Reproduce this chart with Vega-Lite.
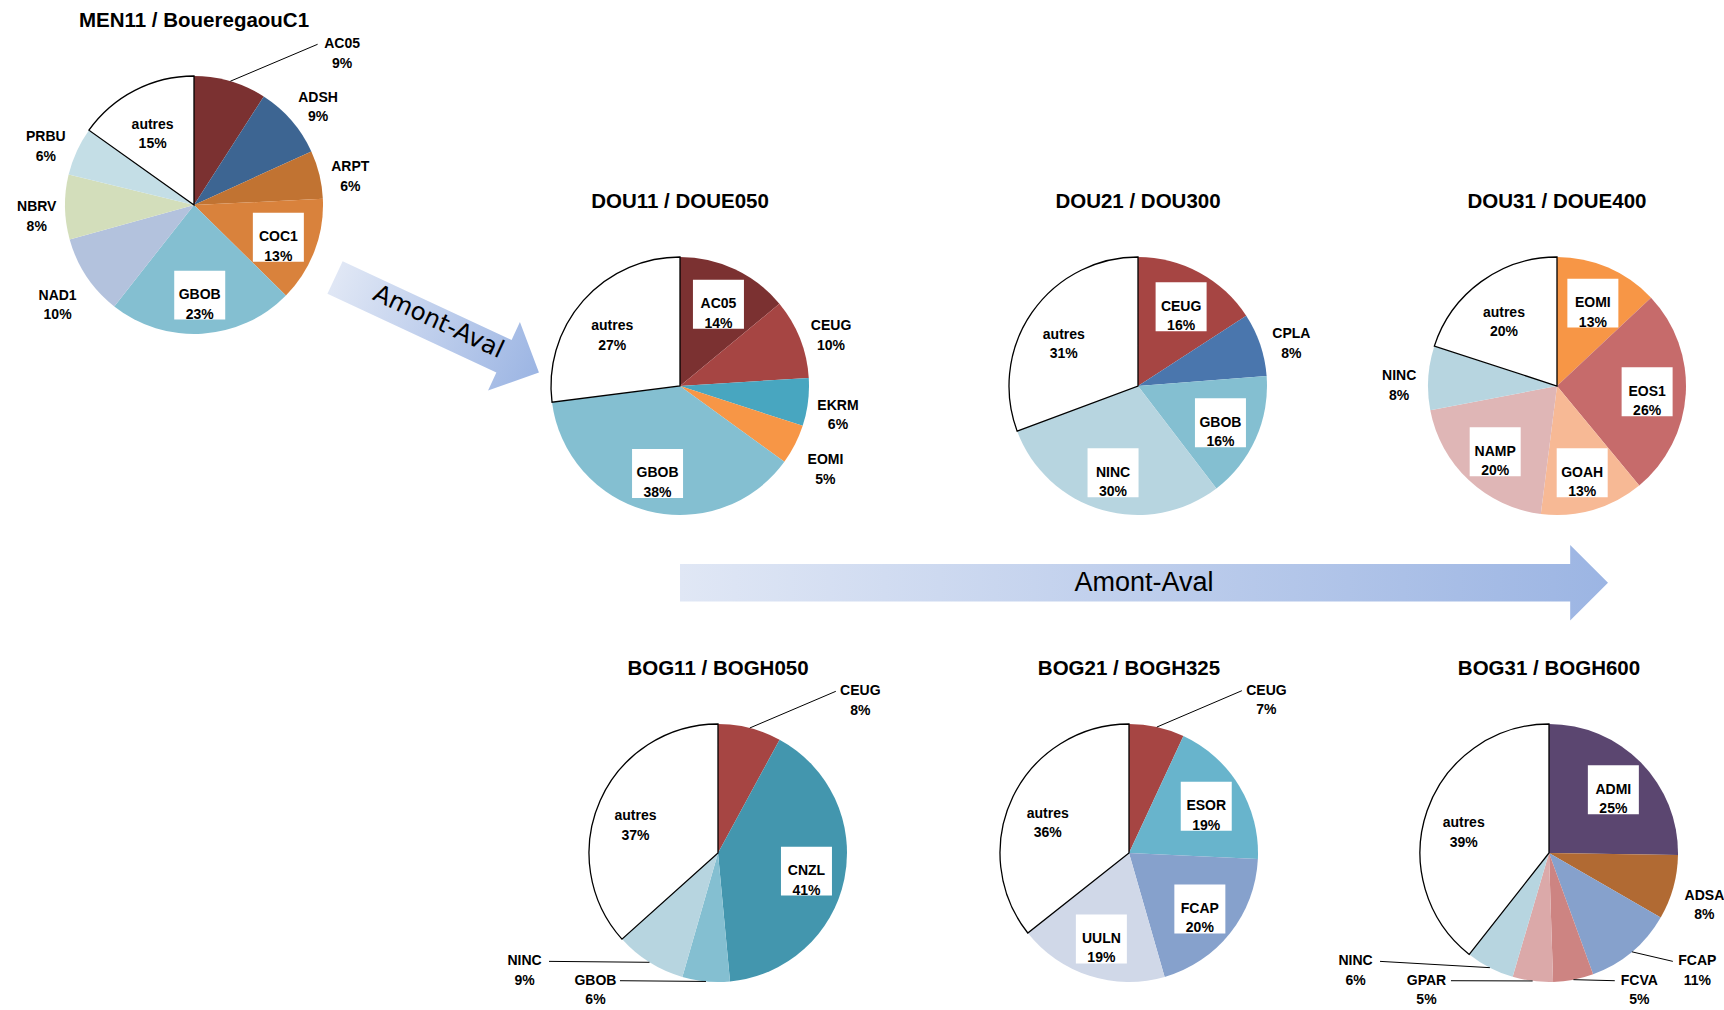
{
"$schema": "https://vega.github.io/schema/vega-lite/v6.json",
"padding": 0,
"background": "white",
"config": {"view": {"stroke": null}, "concat": {"spacing": 0}},
"datasets": {"pies": [
{"pie": "MEN11", "taxon": "AC05", "pct": 9},
{"pie": "MEN11", "taxon": "ADSH", "pct": 9},
{"pie": "MEN11", "taxon": "ARPT", "pct": 6},
{"pie": "MEN11", "taxon": "COC1", "pct": 13},
{"pie": "MEN11", "taxon": "GBOB", "pct": 23},
{"pie": "MEN11", "taxon": "NAD1", "pct": 10},
{"pie": "MEN11", "taxon": "NBRV", "pct": 8},
{"pie": "MEN11", "taxon": "PRBU", "pct": 6},
{"pie": "MEN11", "taxon": "autres", "pct": 15},
{"pie": "DOU11", "taxon": "AC05", "pct": 14},
{"pie": "DOU11", "taxon": "CEUG", "pct": 10},
{"pie": "DOU11", "taxon": "EKRM", "pct": 6},
{"pie": "DOU11", "taxon": "EOMI", "pct": 5},
{"pie": "DOU11", "taxon": "GBOB", "pct": 38},
{"pie": "DOU11", "taxon": "autres", "pct": 27},
{"pie": "DOU21", "taxon": "CEUG", "pct": 16},
{"pie": "DOU21", "taxon": "CPLA", "pct": 8},
{"pie": "DOU21", "taxon": "GBOB", "pct": 16},
{"pie": "DOU21", "taxon": "NINC", "pct": 30},
{"pie": "DOU21", "taxon": "autres", "pct": 31},
{"pie": "DOU31", "taxon": "EOMI", "pct": 13},
{"pie": "DOU31", "taxon": "EOS1", "pct": 26},
{"pie": "DOU31", "taxon": "GOAH", "pct": 13},
{"pie": "DOU31", "taxon": "NAMP", "pct": 20},
{"pie": "DOU31", "taxon": "NINC", "pct": 8},
{"pie": "DOU31", "taxon": "autres", "pct": 20},
{"pie": "BOG11", "taxon": "CEUG", "pct": 8},
{"pie": "BOG11", "taxon": "CNZL", "pct": 41},
{"pie": "BOG11", "taxon": "GBOB", "pct": 6},
{"pie": "BOG11", "taxon": "NINC", "pct": 9},
{"pie": "BOG11", "taxon": "autres", "pct": 37},
{"pie": "BOG21", "taxon": "CEUG", "pct": 7},
{"pie": "BOG21", "taxon": "ESOR", "pct": 19},
{"pie": "BOG21", "taxon": "FCAP", "pct": 20},
{"pie": "BOG21", "taxon": "UULN", "pct": 19},
{"pie": "BOG21", "taxon": "autres", "pct": 36},
{"pie": "BOG31", "taxon": "ADMI", "pct": 25},
{"pie": "BOG31", "taxon": "ADSA", "pct": 8},
{"pie": "BOG31", "taxon": "FCAP", "pct": 11},
{"pie": "BOG31", "taxon": "FCVA", "pct": 5},
{"pie": "BOG31", "taxon": "GPAR", "pct": 5},
{"pie": "BOG31", "taxon": "NINC", "pct": 6},
{"pie": "BOG31", "taxon": "autres", "pct": 39}
]},
"spacing": 0,
"bounds": "flush",
"vconcat": [
{"hconcat": [
  {"width": 64.5, "height": 1, "data": {"values": []}, "mark": "point"},
  {"vconcat": [
    {"width": 1, "height": 5.8, "data": {"values": []}, "mark": "point"},
    {"width": 258, "height": 30, "data": {"values": [{"station": "MEN11 / BoueregaouC1"}]}, "mark": {"type": "text", "font": "Liberation Sans", "fontSize": 20.5, "fontWeight": "bold", "baseline": "middle", "align": "center"}, "encoding": {"text": {"field": "station"}}},
    {"width": 1, "height": 39.7, "data": {"values": []}, "mark": "point"},
    {"width": 258, "height": 258, "data": {"name": "pies"},
     "transform": [{"filter": "datum.pie === 'MEN11'"}, {"joinaggregate": [{"op": "sum", "field": "pct", "as": "tot"}]}, {"window": [{"op": "sum", "field": "pct", "as": "cum"}], "sort": [{"field": "taxon", "order": "ascending"}]}, {"calculate": "2*PI*(datum.cum - datum.pct/2)/datum.tot", "as": "ang"}, {"calculate": "sin(datum.ang)", "as": "sx"}, {"calculate": "cos(datum.ang)", "as": "cy"}, {"calculate": "datum.pct >= 13 ? 0.7 : 1 + (6 + 22*abs(datum.sx) + 19*abs(datum.cy))/129", "as": "rr"}, {"calculate": "datum.pct < 13 && datum.cy > 0.94 ? 'top' : (datum.pct < 13 && datum.cy < -0.6 ? 'bot' : 'none')", "as": "zone"}, {"calculate": "datum.zone === 'top' ? datum.rr*datum.sx + (datum.sx >= 0 ? 0.8 : -0.8) : (datum.zone === 'bot' ? (datum.sx >= 0 ? (abs(datum.sx) > 0.4 ? 1.15 : 0.7) : (abs(datum.sx) > 0.4 ? -1.5 : -0.95)) : datum.rr*datum.sx)", "as": "lx"}, {"calculate": "datum.zone === 'top' ? datum.rr*datum.cy + 0.06 : (datum.zone === 'bot' ? (abs(datum.sx) > 0.4 ? -0.84 : -0.99) : datum.rr*datum.cy)", "as": "ly"}, {"calculate": "datum.lx > datum.sx ? datum.lx - 0.19 : datum.lx + 0.19", "as": "ex"}, {"calculate": "datum.taxon + '\\n' + datum.pct + '%'", "as": "label"}],
     "layer": [
      {"mark": {"type": "arc", "strokeWidth": 1.3}, "encoding": {"theta": {"field": "pct", "type": "quantitative", "stack": true}, "order": {"field": "taxon", "sort": "ascending"}, "color": {"field": "taxon", "type": "nominal", "legend": null, "scale": {"domain": ["AC05","ADSH","ARPT","COC1","GBOB","NAD1","NBRV","PRBU","CEUG","EKRM","EOMI","CPLA","NINC","EOS1","GOAH","NAMP","CNZL","ESOR","FCAP","UULN","ADMI","ADSA","FCVA","GPAR","autres"], "range": ["#7b3131","#3d6592","#c17332","#d9823c","#84bfd1","#b3c2dd","#d3debb","#c4dee6","#a64543","#48a6c0","#f79646","#4a76ad","#b7d5e0","#c66b6b","#f7b995","#dfb6b6","#4396ae","#68b4cc","#86a1cc","#d0d8e8","#5b4670","#b16a33","#cd8482","#dba9a9","#ffffff"]}}, "stroke": {"condition": {"test": "datum.taxon === 'autres'", "value": "#000000"}, "value": "transparent"}}},
      {"transform": [{"filter": "datum.zone !== 'none'"}], "mark": {"type": "rule", "color": "#000000", "strokeWidth": 1}, "encoding": {"x": {"field": "sx", "type": "quantitative", "scale": {"domain": [-1, 1]}, "axis": null}, "y": {"field": "cy", "type": "quantitative", "scale": {"domain": [-1, 1]}, "axis": null}, "x2": {"field": "ex"}, "y2": {"field": "ly"}}},
      {"transform": [{"filter": "datum.pct >= 13 && datum.taxon !== 'autres'"}], "mark": {"type": "point", "shape": "M -1 -0.96 L 1 -0.96 L 1 0.96 L -1 0.96 Z", "size": 2601, "filled": true, "fill": "#ffffff", "opacity": 1, "strokeWidth": 0}, "encoding": {"x": {"field": "lx", "type": "quantitative", "scale": {"domain": [-1, 1]}, "axis": null}, "y": {"field": "ly", "type": "quantitative", "scale": {"domain": [-1, 1]}, "axis": null}}},
      {"mark": {"type": "text", "font": "Liberation Sans", "fontSize": 14, "fontWeight": "bold", "lineBreak": "\n", "lineHeight": 19.5, "baseline": "middle", "align": "center", "color": "#000000"}, "encoding": {"x": {"field": "lx", "type": "quantitative", "scale": {"domain": [-1, 1]}, "axis": null}, "y": {"field": "ly", "type": "quantitative", "scale": {"domain": [-1, 1]}, "axis": null}, "text": {"field": "label"}}}
     ]}
  ], "spacing": 0, "bounds": "flush"},
  {"width": 258, "height": 1, "data": {"values": []}, "mark": "point"},
  {"vconcat": [
    {"width": 1, "height": 274.6, "data": {"values": []}, "mark": "point"},
    {"width": 228, "height": 100, "data": {"values": [{"label": "Amont-Aval"}]},
     "layer": [
      {"mark": {"type": "point", "shape": "M -1 -0.16 L 0.657 -0.16 L 0.657 -0.335 L 1 0 L 0.657 0.335 L 0.657 0.16 L -1 0.16 Z", "size": 50625, "angle": 25, "filled": true, "opacity": 1, "strokeWidth": 0, "fill": {"gradient": "linear", "x1": 0, "y1": 0, "x2": 1, "y2": 0, "stops": [{"offset": 0, "color": "#e0e7f5"}, {"offset": 1, "color": "#9cb5e3"}]}}},
      {"mark": {"type": "text", "font": "DejaVu Sans", "fontSize": 24.5, "angle": 25, "dy": -3, "baseline": "middle", "align": "center", "color": "#000000"}, "encoding": {"text": {"field": "label"}}}
     ]}
  ], "spacing": 0, "bounds": "flush"},
  {"width": 228, "height": 1, "data": {"values": []}, "mark": "point"},
  {"vconcat": [
    {"width": 1, "height": 187, "data": {"values": []}, "mark": "point"},
    {"width": 258, "height": 30, "data": {"values": [{"station": "DOU11 / DOUE050"}]}, "mark": {"type": "text", "font": "Liberation Sans", "fontSize": 20.5, "fontWeight": "bold", "baseline": "middle", "align": "center"}, "encoding": {"text": {"field": "station"}}},
    {"width": 1, "height": 39.7, "data": {"values": []}, "mark": "point"},
    {"width": 258, "height": 258, "data": {"name": "pies"},
     "transform": [{"filter": "datum.pie === 'DOU11'"}, {"joinaggregate": [{"op": "sum", "field": "pct", "as": "tot"}]}, {"window": [{"op": "sum", "field": "pct", "as": "cum"}], "sort": [{"field": "taxon", "order": "ascending"}]}, {"calculate": "2*PI*(datum.cum - datum.pct/2)/datum.tot", "as": "ang"}, {"calculate": "sin(datum.ang)", "as": "sx"}, {"calculate": "cos(datum.ang)", "as": "cy"}, {"calculate": "datum.pct >= 13 ? 0.7 : 1 + (6 + 22*abs(datum.sx) + 19*abs(datum.cy))/129", "as": "rr"}, {"calculate": "datum.pct < 13 && datum.cy > 0.94 ? 'top' : (datum.pct < 13 && datum.cy < -0.6 ? 'bot' : 'none')", "as": "zone"}, {"calculate": "datum.zone === 'top' ? datum.rr*datum.sx + (datum.sx >= 0 ? 0.8 : -0.8) : (datum.zone === 'bot' ? (datum.sx >= 0 ? (abs(datum.sx) > 0.4 ? 1.15 : 0.7) : (abs(datum.sx) > 0.4 ? -1.5 : -0.95)) : datum.rr*datum.sx)", "as": "lx"}, {"calculate": "datum.zone === 'top' ? datum.rr*datum.cy + 0.06 : (datum.zone === 'bot' ? (abs(datum.sx) > 0.4 ? -0.84 : -0.99) : datum.rr*datum.cy)", "as": "ly"}, {"calculate": "datum.lx > datum.sx ? datum.lx - 0.19 : datum.lx + 0.19", "as": "ex"}, {"calculate": "datum.taxon + '\\n' + datum.pct + '%'", "as": "label"}],
     "layer": [
      {"mark": {"type": "arc", "strokeWidth": 1.3}, "encoding": {"theta": {"field": "pct", "type": "quantitative", "stack": true}, "order": {"field": "taxon", "sort": "ascending"}, "color": {"field": "taxon", "type": "nominal", "legend": null, "scale": {"domain": ["AC05","ADSH","ARPT","COC1","GBOB","NAD1","NBRV","PRBU","CEUG","EKRM","EOMI","CPLA","NINC","EOS1","GOAH","NAMP","CNZL","ESOR","FCAP","UULN","ADMI","ADSA","FCVA","GPAR","autres"], "range": ["#7b3131","#3d6592","#c17332","#d9823c","#84bfd1","#b3c2dd","#d3debb","#c4dee6","#a64543","#48a6c0","#f79646","#4a76ad","#b7d5e0","#c66b6b","#f7b995","#dfb6b6","#4396ae","#68b4cc","#86a1cc","#d0d8e8","#5b4670","#b16a33","#cd8482","#dba9a9","#ffffff"]}}, "stroke": {"condition": {"test": "datum.taxon === 'autres'", "value": "#000000"}, "value": "transparent"}}},
      {"transform": [{"filter": "datum.zone !== 'none'"}], "mark": {"type": "rule", "color": "#000000", "strokeWidth": 1}, "encoding": {"x": {"field": "sx", "type": "quantitative", "scale": {"domain": [-1, 1]}, "axis": null}, "y": {"field": "cy", "type": "quantitative", "scale": {"domain": [-1, 1]}, "axis": null}, "x2": {"field": "ex"}, "y2": {"field": "ly"}}},
      {"transform": [{"filter": "datum.pct >= 13 && datum.taxon !== 'autres'"}], "mark": {"type": "point", "shape": "M -1 -0.96 L 1 -0.96 L 1 0.96 L -1 0.96 Z", "size": 2601, "filled": true, "fill": "#ffffff", "opacity": 1, "strokeWidth": 0}, "encoding": {"x": {"field": "lx", "type": "quantitative", "scale": {"domain": [-1, 1]}, "axis": null}, "y": {"field": "ly", "type": "quantitative", "scale": {"domain": [-1, 1]}, "axis": null}}},
      {"mark": {"type": "text", "font": "Liberation Sans", "fontSize": 14, "fontWeight": "bold", "lineBreak": "\n", "lineHeight": 19.5, "baseline": "middle", "align": "center", "color": "#000000"}, "encoding": {"x": {"field": "lx", "type": "quantitative", "scale": {"domain": [-1, 1]}, "axis": null}, "y": {"field": "ly", "type": "quantitative", "scale": {"domain": [-1, 1]}, "axis": null}, "text": {"field": "label"}}}
     ]}
  ], "spacing": 0, "bounds": "flush"},
  {"width": 458, "height": 1, "data": {"values": []}, "mark": "point"},
  {"vconcat": [
    {"width": 1, "height": 187, "data": {"values": []}, "mark": "point"},
    {"width": 258, "height": 30, "data": {"values": [{"station": "DOU21 / DOU300"}]}, "mark": {"type": "text", "font": "Liberation Sans", "fontSize": 20.5, "fontWeight": "bold", "baseline": "middle", "align": "center"}, "encoding": {"text": {"field": "station"}}},
    {"width": 1, "height": 39.7, "data": {"values": []}, "mark": "point"},
    {"width": 258, "height": 258, "data": {"name": "pies"},
     "transform": [{"filter": "datum.pie === 'DOU21'"}, {"joinaggregate": [{"op": "sum", "field": "pct", "as": "tot"}]}, {"window": [{"op": "sum", "field": "pct", "as": "cum"}], "sort": [{"field": "taxon", "order": "ascending"}]}, {"calculate": "2*PI*(datum.cum - datum.pct/2)/datum.tot", "as": "ang"}, {"calculate": "sin(datum.ang)", "as": "sx"}, {"calculate": "cos(datum.ang)", "as": "cy"}, {"calculate": "datum.pct >= 13 ? 0.7 : 1 + (6 + 22*abs(datum.sx) + 19*abs(datum.cy))/129", "as": "rr"}, {"calculate": "datum.pct < 13 && datum.cy > 0.94 ? 'top' : (datum.pct < 13 && datum.cy < -0.6 ? 'bot' : 'none')", "as": "zone"}, {"calculate": "datum.zone === 'top' ? datum.rr*datum.sx + (datum.sx >= 0 ? 0.8 : -0.8) : (datum.zone === 'bot' ? (datum.sx >= 0 ? (abs(datum.sx) > 0.4 ? 1.15 : 0.7) : (abs(datum.sx) > 0.4 ? -1.5 : -0.95)) : datum.rr*datum.sx)", "as": "lx"}, {"calculate": "datum.zone === 'top' ? datum.rr*datum.cy + 0.06 : (datum.zone === 'bot' ? (abs(datum.sx) > 0.4 ? -0.84 : -0.99) : datum.rr*datum.cy)", "as": "ly"}, {"calculate": "datum.lx > datum.sx ? datum.lx - 0.19 : datum.lx + 0.19", "as": "ex"}, {"calculate": "datum.taxon + '\\n' + datum.pct + '%'", "as": "label"}],
     "layer": [
      {"mark": {"type": "arc", "strokeWidth": 1.3}, "encoding": {"theta": {"field": "pct", "type": "quantitative", "stack": true}, "order": {"field": "taxon", "sort": "ascending"}, "color": {"field": "taxon", "type": "nominal", "legend": null, "scale": {"domain": ["AC05","ADSH","ARPT","COC1","GBOB","NAD1","NBRV","PRBU","CEUG","EKRM","EOMI","CPLA","NINC","EOS1","GOAH","NAMP","CNZL","ESOR","FCAP","UULN","ADMI","ADSA","FCVA","GPAR","autres"], "range": ["#7b3131","#3d6592","#c17332","#d9823c","#84bfd1","#b3c2dd","#d3debb","#c4dee6","#a64543","#48a6c0","#f79646","#4a76ad","#b7d5e0","#c66b6b","#f7b995","#dfb6b6","#4396ae","#68b4cc","#86a1cc","#d0d8e8","#5b4670","#b16a33","#cd8482","#dba9a9","#ffffff"]}}, "stroke": {"condition": {"test": "datum.taxon === 'autres'", "value": "#000000"}, "value": "transparent"}}},
      {"transform": [{"filter": "datum.zone !== 'none'"}], "mark": {"type": "rule", "color": "#000000", "strokeWidth": 1}, "encoding": {"x": {"field": "sx", "type": "quantitative", "scale": {"domain": [-1, 1]}, "axis": null}, "y": {"field": "cy", "type": "quantitative", "scale": {"domain": [-1, 1]}, "axis": null}, "x2": {"field": "ex"}, "y2": {"field": "ly"}}},
      {"transform": [{"filter": "datum.pct >= 13 && datum.taxon !== 'autres'"}], "mark": {"type": "point", "shape": "M -1 -0.96 L 1 -0.96 L 1 0.96 L -1 0.96 Z", "size": 2601, "filled": true, "fill": "#ffffff", "opacity": 1, "strokeWidth": 0}, "encoding": {"x": {"field": "lx", "type": "quantitative", "scale": {"domain": [-1, 1]}, "axis": null}, "y": {"field": "ly", "type": "quantitative", "scale": {"domain": [-1, 1]}, "axis": null}}},
      {"mark": {"type": "text", "font": "Liberation Sans", "fontSize": 14, "fontWeight": "bold", "lineBreak": "\n", "lineHeight": 19.5, "baseline": "middle", "align": "center", "color": "#000000"}, "encoding": {"x": {"field": "lx", "type": "quantitative", "scale": {"domain": [-1, 1]}, "axis": null}, "y": {"field": "ly", "type": "quantitative", "scale": {"domain": [-1, 1]}, "axis": null}, "text": {"field": "label"}}}
     ]}
  ], "spacing": 0, "bounds": "flush"},
  {"width": 418.3, "height": 1, "data": {"values": []}, "mark": "point"},
  {"vconcat": [
    {"width": 1, "height": 187, "data": {"values": []}, "mark": "point"},
    {"width": 258, "height": 30, "data": {"values": [{"station": "DOU31 / DOUE400"}]}, "mark": {"type": "text", "font": "Liberation Sans", "fontSize": 20.5, "fontWeight": "bold", "baseline": "middle", "align": "center"}, "encoding": {"text": {"field": "station"}}},
    {"width": 1, "height": 39.7, "data": {"values": []}, "mark": "point"},
    {"width": 258, "height": 258, "data": {"name": "pies"},
     "transform": [{"filter": "datum.pie === 'DOU31'"}, {"joinaggregate": [{"op": "sum", "field": "pct", "as": "tot"}]}, {"window": [{"op": "sum", "field": "pct", "as": "cum"}], "sort": [{"field": "taxon", "order": "ascending"}]}, {"calculate": "2*PI*(datum.cum - datum.pct/2)/datum.tot", "as": "ang"}, {"calculate": "sin(datum.ang)", "as": "sx"}, {"calculate": "cos(datum.ang)", "as": "cy"}, {"calculate": "datum.pct >= 13 ? 0.7 : 1 + (6 + 22*abs(datum.sx) + 19*abs(datum.cy))/129", "as": "rr"}, {"calculate": "datum.pct < 13 && datum.cy > 0.94 ? 'top' : (datum.pct < 13 && datum.cy < -0.6 ? 'bot' : 'none')", "as": "zone"}, {"calculate": "datum.zone === 'top' ? datum.rr*datum.sx + (datum.sx >= 0 ? 0.8 : -0.8) : (datum.zone === 'bot' ? (datum.sx >= 0 ? (abs(datum.sx) > 0.4 ? 1.15 : 0.7) : (abs(datum.sx) > 0.4 ? -1.5 : -0.95)) : datum.rr*datum.sx)", "as": "lx"}, {"calculate": "datum.zone === 'top' ? datum.rr*datum.cy + 0.06 : (datum.zone === 'bot' ? (abs(datum.sx) > 0.4 ? -0.84 : -0.99) : datum.rr*datum.cy)", "as": "ly"}, {"calculate": "datum.lx > datum.sx ? datum.lx - 0.19 : datum.lx + 0.19", "as": "ex"}, {"calculate": "datum.taxon + '\\n' + datum.pct + '%'", "as": "label"}],
     "layer": [
      {"mark": {"type": "arc", "strokeWidth": 1.3}, "encoding": {"theta": {"field": "pct", "type": "quantitative", "stack": true}, "order": {"field": "taxon", "sort": "ascending"}, "color": {"field": "taxon", "type": "nominal", "legend": null, "scale": {"domain": ["AC05","ADSH","ARPT","COC1","GBOB","NAD1","NBRV","PRBU","CEUG","EKRM","EOMI","CPLA","NINC","EOS1","GOAH","NAMP","CNZL","ESOR","FCAP","UULN","ADMI","ADSA","FCVA","GPAR","autres"], "range": ["#7b3131","#3d6592","#c17332","#d9823c","#84bfd1","#b3c2dd","#d3debb","#c4dee6","#a64543","#48a6c0","#f79646","#4a76ad","#b7d5e0","#c66b6b","#f7b995","#dfb6b6","#4396ae","#68b4cc","#86a1cc","#d0d8e8","#5b4670","#b16a33","#cd8482","#dba9a9","#ffffff"]}}, "stroke": {"condition": {"test": "datum.taxon === 'autres'", "value": "#000000"}, "value": "transparent"}}},
      {"transform": [{"filter": "datum.zone !== 'none'"}], "mark": {"type": "rule", "color": "#000000", "strokeWidth": 1}, "encoding": {"x": {"field": "sx", "type": "quantitative", "scale": {"domain": [-1, 1]}, "axis": null}, "y": {"field": "cy", "type": "quantitative", "scale": {"domain": [-1, 1]}, "axis": null}, "x2": {"field": "ex"}, "y2": {"field": "ly"}}},
      {"transform": [{"filter": "datum.pct >= 13 && datum.taxon !== 'autres'"}], "mark": {"type": "point", "shape": "M -1 -0.96 L 1 -0.96 L 1 0.96 L -1 0.96 Z", "size": 2601, "filled": true, "fill": "#ffffff", "opacity": 1, "strokeWidth": 0}, "encoding": {"x": {"field": "lx", "type": "quantitative", "scale": {"domain": [-1, 1]}, "axis": null}, "y": {"field": "ly", "type": "quantitative", "scale": {"domain": [-1, 1]}, "axis": null}}},
      {"mark": {"type": "text", "font": "Liberation Sans", "fontSize": 14, "fontWeight": "bold", "lineBreak": "\n", "lineHeight": 19.5, "baseline": "middle", "align": "center", "color": "#000000"}, "encoding": {"x": {"field": "lx", "type": "quantitative", "scale": {"domain": [-1, 1]}, "axis": null}, "y": {"field": "ly", "type": "quantitative", "scale": {"domain": [-1, 1]}, "axis": null}, "text": {"field": "label"}}}
     ]}
  ], "spacing": 0, "bounds": "flush"}
], "spacing": 0, "bounds": "flush"},
{"width": 1, "height": 564, "data": {"values": []}, "mark": "point"},
{"hconcat": [
  {"width": 679.5, "height": 1, "data": {"values": []}, "mark": "point"},
  {"width": 928, "height": 37.5, "data": {"values": [{"label": "Amont-Aval"}]},
   "layer": [
    {"mark": {"type": "point", "shape": "M -1 -0.0404 L 0.9185 -0.0404 L 0.9185 -0.0816 L 1 0 L 0.9185 0.0816 L 0.9185 0.0404 L -1 0.0404 Z", "size": 861184, "filled": true, "opacity": 1, "strokeWidth": 0, "fill": {"gradient": "linear", "x1": 0, "y1": 0, "x2": 1, "y2": 0, "stops": [{"offset": 0, "color": "#e0e7f5"}, {"offset": 1, "color": "#9cb5e3"}]}}},
    {"mark": {"type": "text", "font": "Liberation Sans", "fontSize": 27, "baseline": "middle", "align": "center", "color": "#000000"}, "encoding": {"text": {"field": "label"}}}
   ]}
], "spacing": 0, "bounds": "flush"},
{"width": 1, "height": 89.9, "data": {"values": []}, "mark": "point"},
{"hconcat": [
  {"width": 588.4, "height": 1, "data": {"values": []}, "mark": "point"},
  {"vconcat": [
    {"width": 258, "height": 30, "data": {"values": [{"station": "BOG11  / BOGH050"}]}, "mark": {"type": "text", "font": "Liberation Sans", "fontSize": 20.5, "fontWeight": "bold", "baseline": "middle", "align": "center"}, "encoding": {"text": {"field": "station"}}},
    {"width": 1, "height": 39.7, "data": {"values": []}, "mark": "point"},
    {"width": 258, "height": 258, "data": {"name": "pies"},
     "transform": [{"filter": "datum.pie === 'BOG11'"}, {"joinaggregate": [{"op": "sum", "field": "pct", "as": "tot"}]}, {"window": [{"op": "sum", "field": "pct", "as": "cum"}], "sort": [{"field": "taxon", "order": "ascending"}]}, {"calculate": "2*PI*(datum.cum - datum.pct/2)/datum.tot", "as": "ang"}, {"calculate": "sin(datum.ang)", "as": "sx"}, {"calculate": "cos(datum.ang)", "as": "cy"}, {"calculate": "datum.pct >= 13 ? 0.7 : 1 + (6 + 22*abs(datum.sx) + 19*abs(datum.cy))/129", "as": "rr"}, {"calculate": "datum.pct < 13 && datum.cy > 0.94 ? 'top' : (datum.pct < 13 && datum.cy < -0.6 ? 'bot' : 'none')", "as": "zone"}, {"calculate": "datum.zone === 'top' ? datum.rr*datum.sx + (datum.sx >= 0 ? 0.8 : -0.8) : (datum.zone === 'bot' ? (datum.sx >= 0 ? (abs(datum.sx) > 0.4 ? 1.15 : 0.7) : (abs(datum.sx) > 0.4 ? -1.5 : -0.95)) : datum.rr*datum.sx)", "as": "lx"}, {"calculate": "datum.zone === 'top' ? datum.rr*datum.cy + 0.06 : (datum.zone === 'bot' ? (abs(datum.sx) > 0.4 ? -0.84 : -0.99) : datum.rr*datum.cy)", "as": "ly"}, {"calculate": "datum.lx > datum.sx ? datum.lx - 0.19 : datum.lx + 0.19", "as": "ex"}, {"calculate": "datum.taxon + '\\n' + datum.pct + '%'", "as": "label"}],
     "layer": [
      {"mark": {"type": "arc", "strokeWidth": 1.3}, "encoding": {"theta": {"field": "pct", "type": "quantitative", "stack": true}, "order": {"field": "taxon", "sort": "ascending"}, "color": {"field": "taxon", "type": "nominal", "legend": null, "scale": {"domain": ["AC05","ADSH","ARPT","COC1","GBOB","NAD1","NBRV","PRBU","CEUG","EKRM","EOMI","CPLA","NINC","EOS1","GOAH","NAMP","CNZL","ESOR","FCAP","UULN","ADMI","ADSA","FCVA","GPAR","autres"], "range": ["#7b3131","#3d6592","#c17332","#d9823c","#84bfd1","#b3c2dd","#d3debb","#c4dee6","#a64543","#48a6c0","#f79646","#4a76ad","#b7d5e0","#c66b6b","#f7b995","#dfb6b6","#4396ae","#68b4cc","#86a1cc","#d0d8e8","#5b4670","#b16a33","#cd8482","#dba9a9","#ffffff"]}}, "stroke": {"condition": {"test": "datum.taxon === 'autres'", "value": "#000000"}, "value": "transparent"}}},
      {"transform": [{"filter": "datum.zone !== 'none'"}], "mark": {"type": "rule", "color": "#000000", "strokeWidth": 1}, "encoding": {"x": {"field": "sx", "type": "quantitative", "scale": {"domain": [-1, 1]}, "axis": null}, "y": {"field": "cy", "type": "quantitative", "scale": {"domain": [-1, 1]}, "axis": null}, "x2": {"field": "ex"}, "y2": {"field": "ly"}}},
      {"transform": [{"filter": "datum.pct >= 13 && datum.taxon !== 'autres'"}], "mark": {"type": "point", "shape": "M -1 -0.96 L 1 -0.96 L 1 0.96 L -1 0.96 Z", "size": 2601, "filled": true, "fill": "#ffffff", "opacity": 1, "strokeWidth": 0}, "encoding": {"x": {"field": "lx", "type": "quantitative", "scale": {"domain": [-1, 1]}, "axis": null}, "y": {"field": "ly", "type": "quantitative", "scale": {"domain": [-1, 1]}, "axis": null}}},
      {"mark": {"type": "text", "font": "Liberation Sans", "fontSize": 14, "fontWeight": "bold", "lineBreak": "\n", "lineHeight": 19.5, "baseline": "middle", "align": "center", "color": "#000000"}, "encoding": {"x": {"field": "lx", "type": "quantitative", "scale": {"domain": [-1, 1]}, "axis": null}, "y": {"field": "ly", "type": "quantitative", "scale": {"domain": [-1, 1]}, "axis": null}, "text": {"field": "label"}}}
     ]}
  ], "spacing": 0, "bounds": "flush"},
  {"width": 410.1, "height": 1, "data": {"values": []}, "mark": "point"},
  {"vconcat": [
    {"width": 258, "height": 30, "data": {"values": [{"station": "BOG21 / BOGH325"}]}, "mark": {"type": "text", "font": "Liberation Sans", "fontSize": 20.5, "fontWeight": "bold", "baseline": "middle", "align": "center"}, "encoding": {"text": {"field": "station"}}},
    {"width": 1, "height": 39.7, "data": {"values": []}, "mark": "point"},
    {"width": 258, "height": 258, "data": {"name": "pies"},
     "transform": [{"filter": "datum.pie === 'BOG21'"}, {"joinaggregate": [{"op": "sum", "field": "pct", "as": "tot"}]}, {"window": [{"op": "sum", "field": "pct", "as": "cum"}], "sort": [{"field": "taxon", "order": "ascending"}]}, {"calculate": "2*PI*(datum.cum - datum.pct/2)/datum.tot", "as": "ang"}, {"calculate": "sin(datum.ang)", "as": "sx"}, {"calculate": "cos(datum.ang)", "as": "cy"}, {"calculate": "datum.pct >= 13 ? 0.7 : 1 + (6 + 22*abs(datum.sx) + 19*abs(datum.cy))/129", "as": "rr"}, {"calculate": "datum.pct < 13 && datum.cy > 0.94 ? 'top' : (datum.pct < 13 && datum.cy < -0.6 ? 'bot' : 'none')", "as": "zone"}, {"calculate": "datum.zone === 'top' ? datum.rr*datum.sx + (datum.sx >= 0 ? 0.8 : -0.8) : (datum.zone === 'bot' ? (datum.sx >= 0 ? (abs(datum.sx) > 0.4 ? 1.15 : 0.7) : (abs(datum.sx) > 0.4 ? -1.5 : -0.95)) : datum.rr*datum.sx)", "as": "lx"}, {"calculate": "datum.zone === 'top' ? datum.rr*datum.cy + 0.06 : (datum.zone === 'bot' ? (abs(datum.sx) > 0.4 ? -0.84 : -0.99) : datum.rr*datum.cy)", "as": "ly"}, {"calculate": "datum.lx > datum.sx ? datum.lx - 0.19 : datum.lx + 0.19", "as": "ex"}, {"calculate": "datum.taxon + '\\n' + datum.pct + '%'", "as": "label"}],
     "layer": [
      {"mark": {"type": "arc", "strokeWidth": 1.3}, "encoding": {"theta": {"field": "pct", "type": "quantitative", "stack": true}, "order": {"field": "taxon", "sort": "ascending"}, "color": {"field": "taxon", "type": "nominal", "legend": null, "scale": {"domain": ["AC05","ADSH","ARPT","COC1","GBOB","NAD1","NBRV","PRBU","CEUG","EKRM","EOMI","CPLA","NINC","EOS1","GOAH","NAMP","CNZL","ESOR","FCAP","UULN","ADMI","ADSA","FCVA","GPAR","autres"], "range": ["#7b3131","#3d6592","#c17332","#d9823c","#84bfd1","#b3c2dd","#d3debb","#c4dee6","#a64543","#48a6c0","#f79646","#4a76ad","#b7d5e0","#c66b6b","#f7b995","#dfb6b6","#4396ae","#68b4cc","#86a1cc","#d0d8e8","#5b4670","#b16a33","#cd8482","#dba9a9","#ffffff"]}}, "stroke": {"condition": {"test": "datum.taxon === 'autres'", "value": "#000000"}, "value": "transparent"}}},
      {"transform": [{"filter": "datum.zone !== 'none'"}], "mark": {"type": "rule", "color": "#000000", "strokeWidth": 1}, "encoding": {"x": {"field": "sx", "type": "quantitative", "scale": {"domain": [-1, 1]}, "axis": null}, "y": {"field": "cy", "type": "quantitative", "scale": {"domain": [-1, 1]}, "axis": null}, "x2": {"field": "ex"}, "y2": {"field": "ly"}}},
      {"transform": [{"filter": "datum.pct >= 13 && datum.taxon !== 'autres'"}], "mark": {"type": "point", "shape": "M -1 -0.96 L 1 -0.96 L 1 0.96 L -1 0.96 Z", "size": 2601, "filled": true, "fill": "#ffffff", "opacity": 1, "strokeWidth": 0}, "encoding": {"x": {"field": "lx", "type": "quantitative", "scale": {"domain": [-1, 1]}, "axis": null}, "y": {"field": "ly", "type": "quantitative", "scale": {"domain": [-1, 1]}, "axis": null}}},
      {"mark": {"type": "text", "font": "Liberation Sans", "fontSize": 14, "fontWeight": "bold", "lineBreak": "\n", "lineHeight": 19.5, "baseline": "middle", "align": "center", "color": "#000000"}, "encoding": {"x": {"field": "lx", "type": "quantitative", "scale": {"domain": [-1, 1]}, "axis": null}, "y": {"field": "ly", "type": "quantitative", "scale": {"domain": [-1, 1]}, "axis": null}, "text": {"field": "label"}}}
     ]}
  ], "spacing": 0, "bounds": "flush"},
  {"width": 419.5, "height": 1, "data": {"values": []}, "mark": "point"},
  {"vconcat": [
    {"width": 258, "height": 30, "data": {"values": [{"station": "BOG31 / BOGH600"}]}, "mark": {"type": "text", "font": "Liberation Sans", "fontSize": 20.5, "fontWeight": "bold", "baseline": "middle", "align": "center"}, "encoding": {"text": {"field": "station"}}},
    {"width": 1, "height": 39.7, "data": {"values": []}, "mark": "point"},
    {"width": 258, "height": 258, "data": {"name": "pies"},
     "transform": [{"filter": "datum.pie === 'BOG31'"}, {"joinaggregate": [{"op": "sum", "field": "pct", "as": "tot"}]}, {"window": [{"op": "sum", "field": "pct", "as": "cum"}], "sort": [{"field": "taxon", "order": "ascending"}]}, {"calculate": "2*PI*(datum.cum - datum.pct/2)/datum.tot", "as": "ang"}, {"calculate": "sin(datum.ang)", "as": "sx"}, {"calculate": "cos(datum.ang)", "as": "cy"}, {"calculate": "datum.pct >= 13 ? 0.7 : 1 + (6 + 22*abs(datum.sx) + 19*abs(datum.cy))/129", "as": "rr"}, {"calculate": "datum.pct < 13 && datum.cy > 0.94 ? 'top' : (datum.pct < 13 && datum.cy < -0.6 ? 'bot' : 'none')", "as": "zone"}, {"calculate": "datum.zone === 'top' ? datum.rr*datum.sx + (datum.sx >= 0 ? 0.8 : -0.8) : (datum.zone === 'bot' ? (datum.sx >= 0 ? (abs(datum.sx) > 0.4 ? 1.15 : 0.7) : (abs(datum.sx) > 0.4 ? -1.5 : -0.95)) : datum.rr*datum.sx)", "as": "lx"}, {"calculate": "datum.zone === 'top' ? datum.rr*datum.cy + 0.06 : (datum.zone === 'bot' ? (abs(datum.sx) > 0.4 ? -0.84 : -0.99) : datum.rr*datum.cy)", "as": "ly"}, {"calculate": "datum.lx > datum.sx ? datum.lx - 0.19 : datum.lx + 0.19", "as": "ex"}, {"calculate": "datum.taxon + '\\n' + datum.pct + '%'", "as": "label"}],
     "layer": [
      {"mark": {"type": "arc", "strokeWidth": 1.3}, "encoding": {"theta": {"field": "pct", "type": "quantitative", "stack": true}, "order": {"field": "taxon", "sort": "ascending"}, "color": {"field": "taxon", "type": "nominal", "legend": null, "scale": {"domain": ["AC05","ADSH","ARPT","COC1","GBOB","NAD1","NBRV","PRBU","CEUG","EKRM","EOMI","CPLA","NINC","EOS1","GOAH","NAMP","CNZL","ESOR","FCAP","UULN","ADMI","ADSA","FCVA","GPAR","autres"], "range": ["#7b3131","#3d6592","#c17332","#d9823c","#84bfd1","#b3c2dd","#d3debb","#c4dee6","#a64543","#48a6c0","#f79646","#4a76ad","#b7d5e0","#c66b6b","#f7b995","#dfb6b6","#4396ae","#68b4cc","#86a1cc","#d0d8e8","#5b4670","#b16a33","#cd8482","#dba9a9","#ffffff"]}}, "stroke": {"condition": {"test": "datum.taxon === 'autres'", "value": "#000000"}, "value": "transparent"}}},
      {"transform": [{"filter": "datum.zone !== 'none'"}], "mark": {"type": "rule", "color": "#000000", "strokeWidth": 1}, "encoding": {"x": {"field": "sx", "type": "quantitative", "scale": {"domain": [-1, 1]}, "axis": null}, "y": {"field": "cy", "type": "quantitative", "scale": {"domain": [-1, 1]}, "axis": null}, "x2": {"field": "ex"}, "y2": {"field": "ly"}}},
      {"transform": [{"filter": "datum.pct >= 13 && datum.taxon !== 'autres'"}], "mark": {"type": "point", "shape": "M -1 -0.96 L 1 -0.96 L 1 0.96 L -1 0.96 Z", "size": 2601, "filled": true, "fill": "#ffffff", "opacity": 1, "strokeWidth": 0}, "encoding": {"x": {"field": "lx", "type": "quantitative", "scale": {"domain": [-1, 1]}, "axis": null}, "y": {"field": "ly", "type": "quantitative", "scale": {"domain": [-1, 1]}, "axis": null}}},
      {"mark": {"type": "text", "font": "Liberation Sans", "fontSize": 14, "fontWeight": "bold", "lineBreak": "\n", "lineHeight": 19.5, "baseline": "middle", "align": "center", "color": "#000000"}, "encoding": {"x": {"field": "lx", "type": "quantitative", "scale": {"domain": [-1, 1]}, "axis": null}, "y": {"field": "ly", "type": "quantitative", "scale": {"domain": [-1, 1]}, "axis": null}, "text": {"field": "label"}}}
     ]}
  ], "spacing": 0, "bounds": "flush"}
], "spacing": 0, "bounds": "flush"}
]
}
